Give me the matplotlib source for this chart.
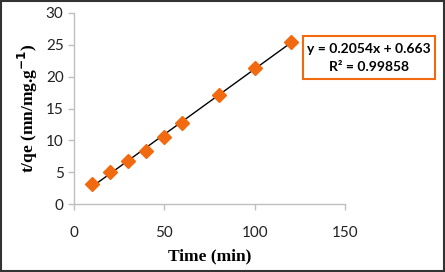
import matplotlib
matplotlib.use('Agg')
import matplotlib.pyplot as plt
from matplotlib.patches import Rectangle
import numpy as np

# data
time_min = [10, 20, 30, 40, 50, 60, 80, 100, 120]
t_qe = [3.1, 5.1, 6.7, 8.4, 10.6, 12.8, 17.1, 21.3, 25.5]
slope = 0.2054
intercept = 0.663
r2 = 0.99858

x_ticks = [0, 50, 100, 150]
y_ticks = [0, 5, 10, 15, 20, 25, 30]

orange = '#F26A10'
tick_font = 'Lato'
label_font = 'Liberation Serif'

W, H = 445, 272
fig = plt.figure(figsize=(W/100, H/100), dpi=100)
ax = fig.add_axes([74/W, 1-204/H, (345-74)/W, (204-13)/H])

ax.plot(time_min, t_qe, linestyle='none', marker='D', markersize=7.5,
        color=orange, zorder=3)
xfit = np.array([min(time_min), max(time_min)])
ax.plot(xfit, slope*xfit + intercept, color='black', linewidth=1.0, zorder=2)

ax.set_xlim(0, 150)
ax.set_ylim(0, 30)
ax.set_xticks(x_ticks)
ax.set_yticks(y_ticks)
for s in ['top', 'right']:
    ax.spines[s].set_visible(False)
for s in ['left', 'bottom']:
    ax.spines[s].set_color('#BFBFBF')
    ax.spines[s].set_linewidth(1.0)
ax.tick_params(axis='both', colors='#BFBFBF', length=4, width=1.0,
               labelcolor='#222222', labelsize=11)
ax.tick_params(axis='x', pad=12)
for lab in ax.get_xticklabels() + ax.get_yticklabels():
    lab.set_fontfamily(tick_font)

ax.set_xlabel('Time (min)', fontfamily=label_font, fontweight='bold',
              fontsize=12.5, labelpad=6)
ax.set_ylabel('t/qe (mn/mg.g$^{\\mathbf{-1}}$)', fontfamily=label_font,
              fontweight='bold', fontsize=12.5, labelpad=4)

# trendline label box
fig.patches.append(Rectangle((303/W, 1-79/H), 132/W, 43/H, transform=fig.transFigure,
                             facecolor='white', edgecolor=orange, linewidth=1.5))
fig.text(369/W, 1-49/H, f'y = {slope}x + {intercept}', ha='center', va='center',
         fontfamily=tick_font, fontweight='bold', fontsize=10)
fig.text(369/W, 1-67/H, f'R² = {r2}', ha='center', va='center',
         fontfamily=tick_font, fontweight='bold', fontsize=10)

fig.patches.append(Rectangle((0.002, 0.003), 0.995, 0.994, transform=fig.transFigure,
                             fill=False, edgecolor='#333333', linewidth=1.5))

plt.savefig('out.png', dpi=100, facecolor='white')
